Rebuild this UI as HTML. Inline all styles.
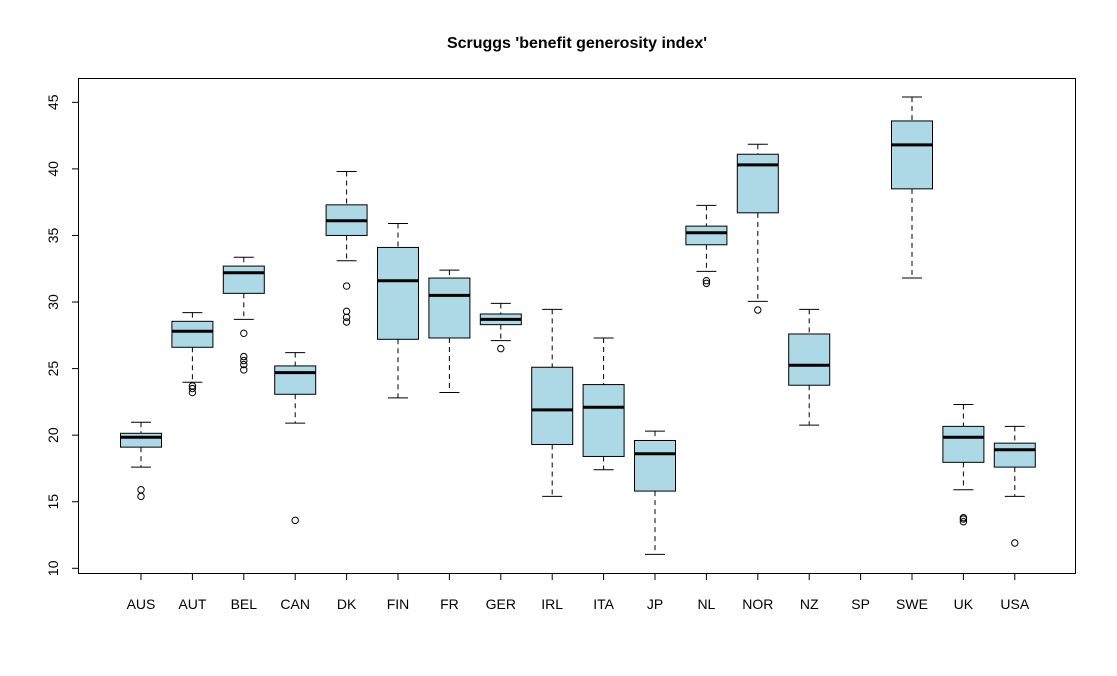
<!DOCTYPE html>
<html><head><meta charset="utf-8"><style>
body{margin:0;background:#fff}
svg text{font-family:"Liberation Sans",Arial,sans-serif}
</style></head><body>
<svg id="chart" width="1117" height="671" xmlns="http://www.w3.org/2000/svg">
<rect width="1117" height="671" fill="#fff"/>
<text x="577" y="48" text-anchor="middle" font-size="16" font-weight="bold">Scruggs 'benefit generosity index'</text>
<rect x="78.5" y="78.5" width="997" height="495" fill="none" stroke="#000"/>
<g id="yaxis"></g>
<g id="xaxis"></g>
<g id="boxes"></g>
</svg>
<script>
const categories=["AUS","AUT","BEL","CAN","DK","FIN","FR","GER","IRL","ITA","JP","NL","NOR","NZ","SP","SWE","UK","USA"];
const whiskerLow=[17.6,23.97,28.7,20.9,33.1,22.8,23.2,27.1,15.4,17.4,11.05,32.3,30.05,20.75,null,31.8,15.9,15.4];
const q1=[19.1,26.6,30.65,23.07,35.0,27.2,27.3,28.3,19.3,18.4,15.8,34.3,36.7,23.75,null,38.5,17.96,17.6];
const medians=[19.84,27.8,32.2,24.7,36.1,31.6,30.5,28.7,21.9,22.1,18.6,35.2,40.3,25.25,null,41.8,19.84,18.9];
const q3=[20.14,28.55,32.7,25.2,37.3,34.1,31.8,29.1,25.1,23.8,19.6,35.7,41.1,27.6,null,43.6,20.66,19.4];
const whiskerHigh=[20.97,29.2,33.36,26.2,39.8,35.9,32.4,29.9,29.45,27.3,20.3,37.26,41.85,29.45,null,45.4,22.3,20.66];
const outliers=[[15.9,15.4],[23.7,23.5,23.2],[27.65,25.9,25.6,25.3,24.9],[13.6],[31.2,29.3,28.85,28.5],[],[],[26.5],[],[],[],[31.6,31.4],[29.4],[],[],[],[13.8,13.7,13.5],[11.9]];
const yTicks=[10,15,20,25,30,35,40,45];
const NS="http://www.w3.org/2000/svg";
const y=v=>568.3-(v-10)*13.314;
const x=i=>141+i*51.4;
function mk(tag,attrs,parent){const e=document.createElementNS(NS,tag);for(const k in attrs)e.setAttribute(k,attrs[k]);parent.appendChild(e);return e;}
const ya=document.getElementById('yaxis'),xa=document.getElementById('xaxis'),bx=document.getElementById('boxes');
mk('line',{x1:78.5,x2:78.5,y1:y(10),y2:y(45),stroke:'#000'},ya);
yTicks.forEach(t=>{
 const l=mk('line',{x1:72,x2:78.5,y1:y(t),y2:y(t),stroke:'#000'},ya);
 
 
 const tx=mk('text',{x:0,y:0,'font-size':14,'text-anchor':'middle',fill:'#000',transform:`translate(58,${y(t)}) rotate(-90)`},ya);
 tx.textContent=t;
 
 
});
mk('line',{x1:x(0),x2:x(17),y1:573.5,y2:573.5,stroke:'#000'},xa);
categories.forEach((c,i)=>{
 const l=mk('line',{x1:x(i),x2:x(i),y1:573.5,y2:580,stroke:'#000'},xa);
 
 
 const tx=mk('text',{x:x(i),y:609,'font-size':14,'text-anchor':'middle'},xa);
 tx.textContent=c;
 
 
 if(medians[i]==null)return;
 const g=mk('g',{},bx);
 
 
 const cx=x(i),hw=20.5,cw=10;
 mk('line',{x1:cx,x2:cx,y1:y(whiskerHigh[i]),y2:y(q3[i]),stroke:'#000','stroke-dasharray':'5,4'},g);
 mk('line',{x1:cx,x2:cx,y1:y(q1[i]),y2:y(whiskerLow[i]),stroke:'#000','stroke-dasharray':'5,4'},g);
 mk('line',{x1:cx-cw,x2:cx+cw,y1:y(whiskerHigh[i]),y2:y(whiskerHigh[i]),stroke:'#000'},g);
 mk('line',{x1:cx-cw,x2:cx+cw,y1:y(whiskerLow[i]),y2:y(whiskerLow[i]),stroke:'#000'},g);
 mk('rect',{x:cx-hw,y:y(q3[i]),width:2*hw,height:y(q1[i])-y(q3[i]),fill:'#add8e6',stroke:'#000'},g);
 mk('line',{x1:cx-hw,x2:cx+hw,y1:y(medians[i]),y2:y(medians[i]),stroke:'#000','stroke-width':3},g);
 outliers[i].forEach(o=>{
  const p=mk('circle',{cx:cx,cy:y(o),r:3.2,fill:'none',stroke:'#000'},g);
  
  
 });
});
</script>
</body></html>
